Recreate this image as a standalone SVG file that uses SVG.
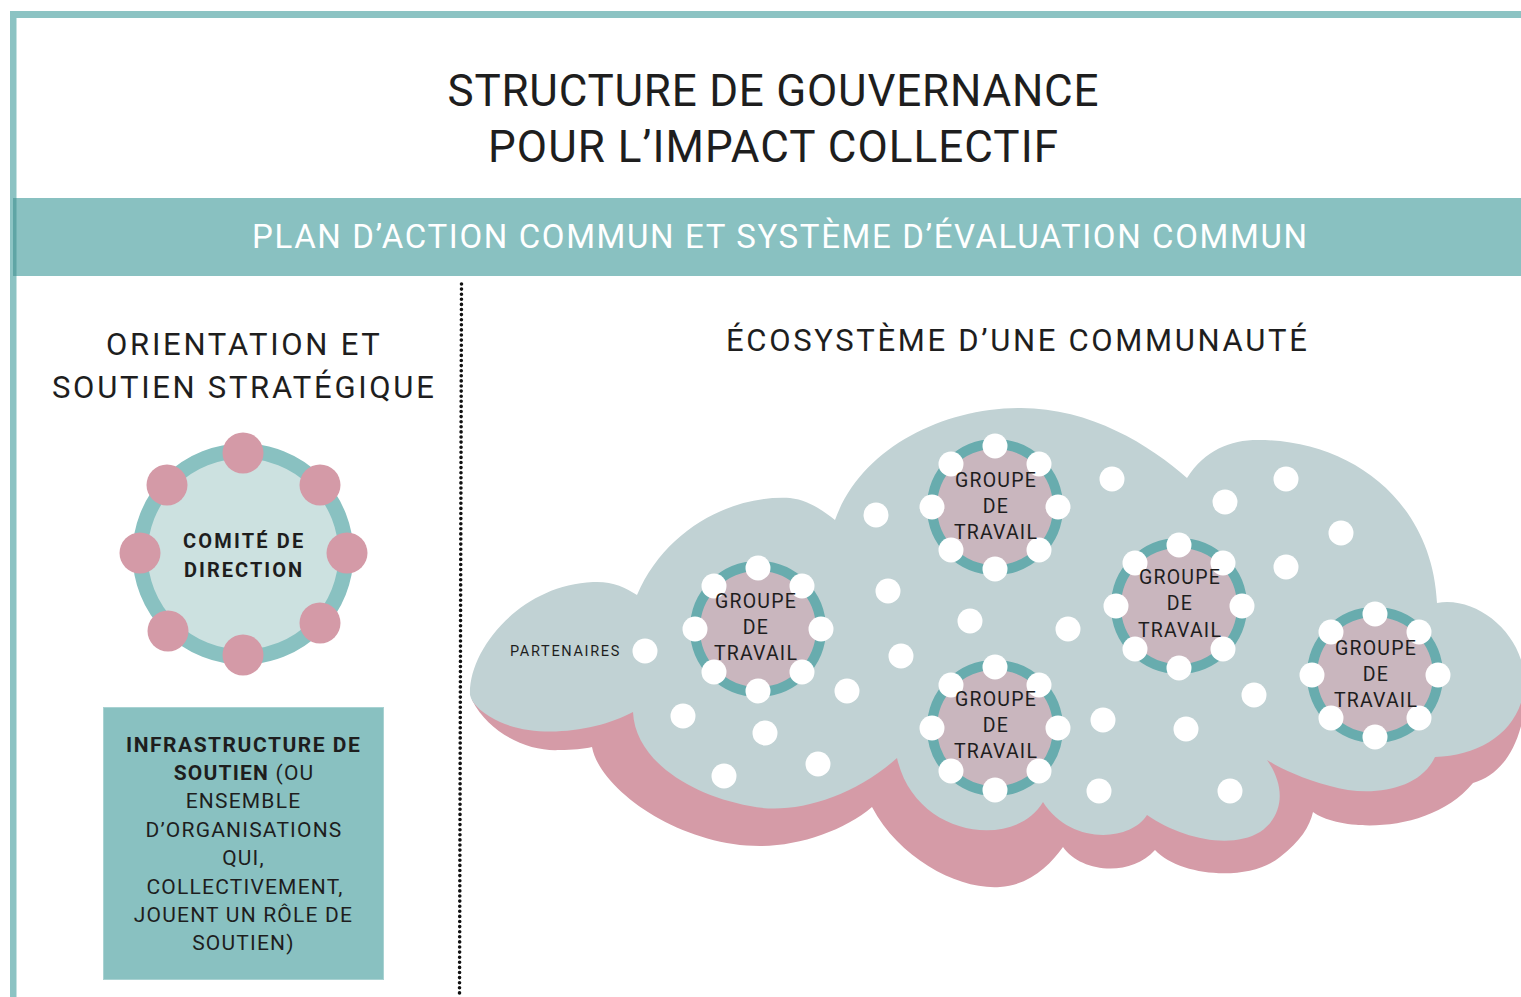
<svg xmlns="http://www.w3.org/2000/svg" xmlns:xlink="http://www.w3.org/1999/xlink" width="1521" height="997" viewBox="0 0 1521 997">
<style>
text{font-family:Roboto,"Liberation Sans",sans-serif;fill:#1e1e1e}
.title{font-size:44px;letter-spacing:1px;text-anchor:middle}
.banner{font-size:33px;fill:#ffffff;text-anchor:middle}
.head{font-size:31px;letter-spacing:1.2px;text-anchor:middle}
.bold{font-weight:700}
.cm{font-size:20px;font-weight:700;letter-spacing:0.8px;text-anchor:middle}
.inf{font-size:21px;letter-spacing:1.2px;text-anchor:middle}
.gt{font-size:19.5px;letter-spacing:1.2px;text-anchor:middle}
.pt{font-size:14.5px;letter-spacing:0.6px}
.ring{fill:#C9B6BE;stroke:#68ACAE;stroke-width:10}
.wd{fill:#ffffff}
.pd{fill:#D49AA7}
</style>
<defs>
<g id="gdots">
<circle class="wd" cx="0" cy="-61" r="12.5"/>
<circle class="wd" cx="44" cy="-43" r="12.5"/>
<circle class="wd" cx="63" cy="0" r="12.5"/>
<circle class="wd" cx="44" cy="43" r="12.5"/>
<circle class="wd" cx="0" cy="62" r="12.5"/>
<circle class="wd" cx="-44" cy="43" r="12.5"/>
<circle class="wd" cx="-63" cy="0" r="12.5"/>
<circle class="wd" cx="-44" cy="-43" r="12.5"/>
</g>
</defs>
<rect width="1521" height="997" fill="#ffffff"/>
<g id="frame">
<rect x="10" y="11" width="1511" height="7" fill="#8CC3C3"/>
<rect x="10" y="11" width="6.5" height="986" fill="#8CC3C3"/>
</g>
<g id="title">
<text class="title" x="773.5" y="106" textLength="652" lengthAdjust="spacing">STRUCTURE DE GOUVERNANCE</text>
<text class="title" x="773.5" y="162" textLength="571" lengthAdjust="spacing">POUR L’IMPACT COLLECTIF</text>
</g>
<g id="banner">
<rect x="13" y="198" width="1508" height="78" fill="#89C1C1"/>
<rect x="13" y="198" width="3.5" height="78" fill="#5FA5A5"/>
<text class="banner" x="779.5" y="248" textLength="1055" lengthAdjust="spacing">PLAN D’ACTION COMMUN ET SYSTÈME D’ÉVALUATION COMMUN</text>
</g>
<line x1="461.5" y1="284" x2="459.5" y2="997" stroke="#111" stroke-width="3.6" stroke-linecap="round" stroke-dasharray="0 5.1"/>
<g id="left-heading">
<text class="head" x="243.5" y="355" textLength="275" lengthAdjust="spacing">ORIENTATION ET</text>
<text class="head" x="243.5" y="398" textLength="383" lengthAdjust="spacing">SOUTIEN STRATÉGIQUE</text>
</g>
<g id="right-heading">
<text class="head" x="1017" y="351" textLength="582" lengthAdjust="spacing">ÉCOSYSTÈME D’UNE COMMUNAUTÉ</text>
</g>
<g id="comite">
<circle cx="243" cy="554" r="103" fill="#CCE1E0" stroke="#89C1C1" stroke-width="15"/>
<circle class="pd" cx="243" cy="453" r="20.5"/>
<circle class="pd" cx="320" cy="485" r="20.5"/>
<circle class="pd" cx="347" cy="553" r="20.5"/>
<circle class="pd" cx="320" cy="623" r="20.5"/>
<circle class="pd" cx="243" cy="655" r="20.5"/>
<circle class="pd" cx="168" cy="631" r="20.5"/>
<circle class="pd" cx="140" cy="553" r="20.5"/>
<circle class="pd" cx="167" cy="485" r="20.5"/>
<text class="cm" x="243.5" y="548" textLength="121" lengthAdjust="spacing">COMITÉ DE</text>
<text class="cm" x="243.5" y="577" textLength="119" lengthAdjust="spacing">DIRECTION</text>
</g>
<g id="infrastructure">
<rect x="103.5" y="707.5" width="280" height="272" fill="#89C1C1" stroke="#A9D2D2" stroke-width="1"/>
<text class="inf bold" x="243.5" y="752" textLength="235" lengthAdjust="spacing">INFRASTRUCTURE DE</text>
<text class="inf" x="244" y="780"><tspan class="bold">SOUTIEN</tspan> (OU</text>
<text class="inf" x="243.5" y="808">ENSEMBLE</text>
<text class="inf" x="244" y="837">D’ORGANISATIONS</text>
<text class="inf" x="243.5" y="865">QUI,</text>
<text class="inf" x="245" y="894">COLLECTIVEMENT,</text>
<text class="inf" x="243.5" y="922">JOUENT UN RÔLE DE</text>
<text class="inf" x="243.5" y="950">SOUTIEN)</text>
</g>
<g id="ecosysteme">
<path id="cloud-shadow" fill="#D59BA7" d="M 472,690 L 472,700 C 490,735 530,752 560,750 C 572,750 584,749 592,747 C 600,790 680,846 760,846 C 800,846 845,830 872,807 C 900,860 960,890 1000,887 C 1030,885 1050,865 1063,847 C 1080,872 1130,878 1155,850 C 1180,877 1250,882 1280,857 C 1300,842 1310,826 1313,812 C 1340,832 1430,835 1473,783 C 1500,775 1520,750 1526,700 L 1526,690 Z"/>
<path id="cloud" fill="#C1D2D4" d="M 470,695 C 468,650 520,585 593,582 C 612,581 625,587 637,595 C 665,530 730,495 790,498 C 808,500 822,510 835,520 C 860,450 940,408 1021,408 C 1090,408 1150,445 1187,478 C 1205,450 1230,440 1258,440 C 1350,440 1432,500 1437,603 C 1480,595 1530,640 1524,690 C 1518,732 1480,756 1435,757 C 1420,790 1370,798 1330,786 C 1300,778 1280,768 1267,760 C 1285,785 1285,815 1260,832 C 1230,850 1180,838 1147,815 C 1130,842 1070,845 1043,802 C 1015,850 915,838 897,758 C 850,800 790,815 750,806 C 690,795 635,760 633,712 C 600,730 540,740 500,722 C 485,715 472,705 470,695 Z"/>
<g id="scatter">
<circle class="wd" cx="876" cy="515" r="12.5"/>
<circle class="wd" cx="888" cy="591" r="12.5"/>
<circle class="wd" cx="901" cy="656" r="12.5"/>
<circle class="wd" cx="847" cy="691" r="12.5"/>
<circle class="wd" cx="683" cy="716" r="12.5"/>
<circle class="wd" cx="765" cy="733" r="12.5"/>
<circle class="wd" cx="724" cy="776" r="12.5"/>
<circle class="wd" cx="818" cy="764" r="12.5"/>
<circle class="wd" cx="970" cy="621" r="12.5"/>
<circle class="wd" cx="1068" cy="629" r="12.5"/>
<circle class="wd" cx="1112" cy="479" r="12.5"/>
<circle class="wd" cx="1225" cy="502" r="12.5"/>
<circle class="wd" cx="1286" cy="479" r="12.5"/>
<circle class="wd" cx="1341" cy="533" r="12.5"/>
<circle class="wd" cx="1286" cy="567" r="12.5"/>
<circle class="wd" cx="1254" cy="695" r="12.5"/>
<circle class="wd" cx="1103" cy="720" r="12.5"/>
<circle class="wd" cx="1186" cy="729" r="12.5"/>
<circle class="wd" cx="1099" cy="791" r="12.5"/>
<circle class="wd" cx="1230" cy="791" r="12.5"/>
</g>
</g>
<g id="partenaires">
<text class="pt" x="510" y="656" textLength="110" lengthAdjust="spacing">PARTENAIRES</text>
<circle class="wd" cx="645" cy="651" r="12.5"/>
</g>
<g id="groupe-1">
<circle class="ring" cx="758" cy="629" r="63"/>
<use xlink:href="#gdots" href="#gdots" x="758" y="629"/>
<text class="gt" x="756" y="608">GROUPE</text>
<text class="gt" x="756" y="634">DE</text>
<text class="gt" x="756" y="660">TRAVAIL</text>
</g>
<g id="groupe-2">
<circle class="ring" cx="995" cy="507" r="63"/>
<use xlink:href="#gdots" href="#gdots" x="995" y="507"/>
<text class="gt" x="996" y="487">GROUPE</text>
<text class="gt" x="996" y="513">DE</text>
<text class="gt" x="996" y="539">TRAVAIL</text>
</g>
<g id="groupe-3">
<circle class="ring" cx="1179" cy="606" r="63"/>
<use xlink:href="#gdots" href="#gdots" x="1179" y="606"/>
<text class="gt" x="1180" y="584">GROUPE</text>
<text class="gt" x="1180" y="610">DE</text>
<text class="gt" x="1180" y="637">TRAVAIL</text>
</g>
<g id="groupe-4">
<circle class="ring" cx="995" cy="728" r="63"/>
<use xlink:href="#gdots" href="#gdots" x="995" y="728"/>
<text class="gt" x="996" y="706">GROUPE</text>
<text class="gt" x="996" y="732">DE</text>
<text class="gt" x="996" y="758">TRAVAIL</text>
</g>
<g id="groupe-5">
<circle class="ring" cx="1375" cy="675" r="63"/>
<use xlink:href="#gdots" href="#gdots" x="1375" y="675"/>
<text class="gt" x="1376" y="655">GROUPE</text>
<text class="gt" x="1376" y="681">DE</text>
<text class="gt" x="1376" y="707">TRAVAIL</text>
</g>
<g id="connectors"/>
</svg>
